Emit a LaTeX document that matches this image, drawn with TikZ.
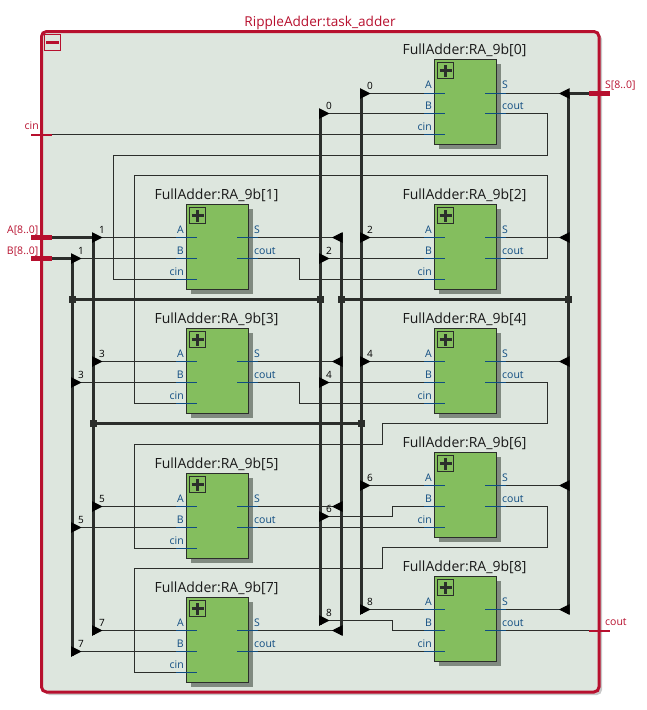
\documentclass[tikz,border=0pt]{standalone}
\usepackage{fontspec}
\setmainfont{Open Sans}
\usetikzlibrary{arrows.meta,shadows}
\definecolor{sheetgreen}{HTML}{DDE6DE}
\definecolor{blockgreen}{HTML}{84BE5E}
\definecolor{framered}{HTML}{B7102E}
\definecolor{pinblue}{HTML}{0F4C81}
\definecolor{wiredark}{HTML}{2B2E2B}
\definecolor{blockshade}{HTML}{808A80}
\definecolor{frameshade}{HTML}{C8C8C8}
\tikzset{
  wire/.style={draw=wiredark, line width=1pt},
  bus/.style={draw=wiredark, line width=3pt},
  tipto/.style={-{Triangle[reversed,length=10.5pt,width=10.5pt,color=black]}},
  tipfrom/.style={{Triangle[reversed,length=10.5pt,width=10.5pt,color=black]}-},
  junction/.style={rectangle, fill=wiredark, minimum size=7pt, inner sep=0pt},
  fablock/.style={rectangle, draw=wiredark, line width=1pt, fill=blockgreen, minimum width=62pt, minimum height=85pt, inner sep=0pt,
    drop shadow={shadow xshift=4.5pt, shadow yshift=-4.5pt, opacity=1, fill=blockshade}},
  facaption/.style={anchor=base, text=black!90, font=\fontsize{14}{16}\selectfont},
  plusbox/.style={rectangle, draw=wiredark, line width=1pt, fill=blockgreen, minimum size=16pt, inner sep=0pt},
  plusbar/.style={draw=wiredark, line width=3pt},
  stub/.style={draw=pinblue, line width=1pt},
  pinleft/.style={anchor=base east, text=pinblue, font=\fontsize{10.5}{12}\selectfont, inner sep=0pt},
  pinright/.style={anchor=base west, text=pinblue, font=\fontsize{10.5}{12}\selectfont, inner sep=0pt},
  tapnum/.style={text=black, font=\fontsize{10}{11}\selectfont, inner sep=0pt},
  portbus/.style={rectangle, fill=framered, minimum width=20.5pt, minimum height=4.5pt, inner sep=0pt},
  portbit/.style={rectangle, fill=framered, minimum width=20.5pt, minimum height=2pt, inner sep=0pt},
  portlabel/.style={text=framered, font=\fontsize{10.5}{12}\selectfont, inner sep=0pt},
}
\begin{document}
\begin{tikzpicture}[x=1pt, y=-1pt]
    \useasboundingbox (0,0) rectangle (646,710);

    % Sheet with its shade
    \fill[frameshade, rounded corners=5pt] (44.5,34) rectangle (602,695);
    \draw[framered, fill=sheetgreen, line width=3pt, rounded corners=5pt] (41.5,31.5) rectangle (599,692);
    \node[text=framered, anchor=base, font=\fontsize{13.6}{15}\selectfont] (title) at (320,26) {RippleAdder:task\_adder};
    \node[rectangle, draw=framered, line width=1pt, minimum size=16pt, inner sep=0pt] (collapse) at (52.5,42.3) {};
    \draw[framered, line width=3pt] ([xshift=-6.5pt]collapse.center) -- ([xshift=6.5pt]collapse.center);

    % Adders: index / left / top / row of pin A
    \foreach \idx/\bx/\by/\ay in {0/434.5/59.5/93.5, 1/186.5/204.5/237.5, 2/434.5/204.5/237.5, 3/186.5/328.5/361.5, 4/434.5/328.5/361.5,
                              5/186.5/473.5/506.5, 6/434.5/452.5/485.5, 7/186.5/597.5/630.5, 8/434.5/576.5/609.5} {
        \node[fablock] (fa\idx) at (\bx+31,\by+42.5) {};
        \node[facaption] (cap\idx) at (\bx+30,\by-5.5) {FullAdder:RA\_9b[\idx]};
        \node[plusbox] (plus\idx) at (\bx+11,\by+11) {};
        \draw[plusbar] ([xshift=-6pt]plus\idx.center) -- ([xshift=6pt]plus\idx.center);
        \draw[plusbar] ([yshift=-6pt]plus\idx.center) -- ([yshift=6pt]plus\idx.center);
        % Pin stubs
        \coordinate (fa\idx-A) at (\bx-10.5,\ay);
        \coordinate (fa\idx-B) at (\bx-10.5,\by+54);
        \coordinate (fa\idx-cin) at (\bx-10.5,\by+75);
        \coordinate (fa\idx-S) at (\bx+71,\ay);
        \coordinate (fa\idx-cout) at (\bx+71,\by+54);
        \draw[stub] (fa\idx-A) -- ++(21,0);
        \draw[stub] (fa\idx-B) -- ++(21,0);
        \draw[stub] (fa\idx-cin) -- ++(21,0);
        \draw[stub] (fa\idx-S) -- ++(-20.5,0);
        \draw[stub] (fa\idx-cout) -- ++(-20.5,0);
        \node[pinleft] (lab\idx-A) at (\bx-2.5,\by+29) {A};
        \node[pinleft] (lab\idx-B) at (\bx-2.5,\by+50) {B};
        \node[pinleft] (lab\idx-cin) at (\bx-2.5,\by+71) {cin};
        \node[pinright] (lab\idx-S) at (\bx+67.5,\by+29) {S};
        \node[pinright] (lab\idx-cout) at (\bx+67.5,\by+50) {cout};
    }

    % Ports
    \node[portbit] (pcin) at (41.5,134.5) {};
    \node[portbus] (pA) at (41.5,237.5) {};
    \node[portbus] (pB) at (41.5,258.5) {};
    \node[portbus] (pS) at (599.3,93.5) {};
    \node[portbit] (pcout) at (599.3,630.5) {};
    \node[portlabel, anchor=base east] (lcin) at (39,129) {cin};
    \node[portlabel, anchor=base east] (lA) at (38.5,233) {A[8..0]};
    \node[portlabel, anchor=base east] (lB) at (38.5,254) {B[8..0]};
    \node[portlabel, anchor=base west] (lS) at (605,88) {S[8..0]};
    \node[portlabel, anchor=base west] (lcout) at (605,625) {cout};

    % Carry chain
    \draw[wire] (pcin.east) -- (fa0-cin);
    \draw[wire] (fa0-cout) -| (547.5,155.5) -- (113.5,155.5) |- (fa1-cin);
    \draw[wire] (fa1-cout) -| (299.5,279.5) -- (fa2-cin);
    \draw[wire] (fa2-cout) -| (547.5,175.5) -- (134.5,175.5) |- (fa3-cin);
    \draw[wire] (fa3-cout) -| (299.5,403.5) -- (fa4-cin);
    \draw[wire] (fa4-cout) -| (547.5,423.5) -- (382.5,423.5) |- (134.5,444.5) |- (fa5-cin);
    \draw[wire] (fa5-cout) -- (fa6-cin);
    \draw[wire] (fa6-cout) -| (547.5,547.5) -- (382.5,547.5) |- (134.5,568.5) |- (fa7-cin);
    \draw[wire] (fa7-cout) -- (fa8-cin);
    \draw[wire] (fa8-cout) -- (pcout.west);

    % Buses
    \node[junction] (jB) at (72.5,299.5) {};
    \node[junction] (jBr) at (320.5,299.5) {};
    \node[junction] (jS) at (341.5,299.5) {};
    \node[junction] (jSr) at (568.5,299.5) {};
    \node[junction] (jA) at (93.5,423.5) {};
    \node[junction] (jAr) at (361.5,423.5) {};
    \draw[bus] (pA.east) -| (93.5,634.5);
    \draw[bus] (pB.east) -| (72.5,655.5);
    \draw[bus] (320.5,113.5) -- (320.5,624.5);
    \draw[bus] (341.5,233) -- (341.5,634.5);
    \draw[bus] (361.5,93.5) -- (361.5,613.5);
    \draw[bus] (pS.west) -| (568.5,613.5);
    \draw[bus] (jB) -- (jBr);
    \draw[bus] (jS) -- (jSr);
    \draw[bus] (jA) -- (jAr);

    % Bit taps: name / x / y / bit
    \foreach \tap/\tx/\ty/\bit in {tA1/92/237.5/1, tA3/92/361.5/3, tA5/92/506.5/5, tA7/92/630.5/7,
                                   tB1/71/258.5/1, tB3/71/382.5/3, tB5/71/527.5/5, tB7/71/651.5/7,
                                   tM0/319/113.5/0, tM2/319/258.5/2, tM4/319/382.5/4, tM6/319/516.5/6, tM8/319/620.5/8,
                                   tR0/360/93.5/0, tR2/360/237.5/2, tR4/360/361.5/4, tR6/360/485.5/6, tR8/360/609.5/8} {
        \coordinate (\tap) at (\tx,\ty);
        \node[tapnum] (num\tap) at (\tx+10,\ty-8) {\bit};
    }
    \draw[wire, tipfrom] (tA1) -- (fa1-A);
    \draw[wire, tipfrom] (tA3) -- (fa3-A);
    \draw[wire, tipfrom] (tA5) -- (fa5-A);
    \draw[wire, tipfrom] (tA7) -- (fa7-A);
    \draw[wire, tipfrom] (tB1) -- (fa1-B);
    \draw[wire, tipfrom] (tB3) -- (fa3-B);
    \draw[wire, tipfrom] (tB5) -- (fa5-B);
    \draw[wire, tipfrom] (tB7) -- (fa7-B);
    \draw[wire, tipfrom] (tM0) -- (fa0-B);
    \draw[wire, tipfrom] (tM2) -- (fa2-B);
    \draw[wire, tipfrom] (tM4) -- (fa4-B);
    \draw[wire, tipfrom] (tM6) -| (392.5,506.5) -- (fa6-B);
    \draw[wire, tipfrom] (tM8) -| (392.5,630.5) -- (fa8-B);
    \draw[wire, tipfrom] (tR0) -- (fa0-A);
    \draw[wire, tipfrom] (tR2) -- (fa2-A);
    \draw[wire, tipfrom] (tR4) -- (fa4-A);
    \draw[wire, tipfrom] (tR6) -- (fa6-A);
    \draw[wire, tipfrom] (tR8) -- (fa8-A);

    % Sum outputs
    \draw[wire, tipto] (fa0-S) -- (569.5,93.5);
    \draw[wire, tipto] (fa2-S) -- (569.5,237.5);
    \draw[wire, tipto] (fa4-S) -- (569.5,361.5);
    \draw[wire, tipto] (fa6-S) -- (569.5,485.5);
    \draw[wire, tipto] (fa8-S) -- (569.5,609.5);
    \draw[wire, tipto] (fa1-S) -- (342.5,237.5);
    \draw[wire, tipto] (fa3-S) -- (342.5,361.5);
    \draw[wire, tipto] (fa5-S) -- (342.5,506.5);
    \draw[wire, tipto] (fa7-S) -- (342.5,630.5);
\end{tikzpicture}
\end{document}
